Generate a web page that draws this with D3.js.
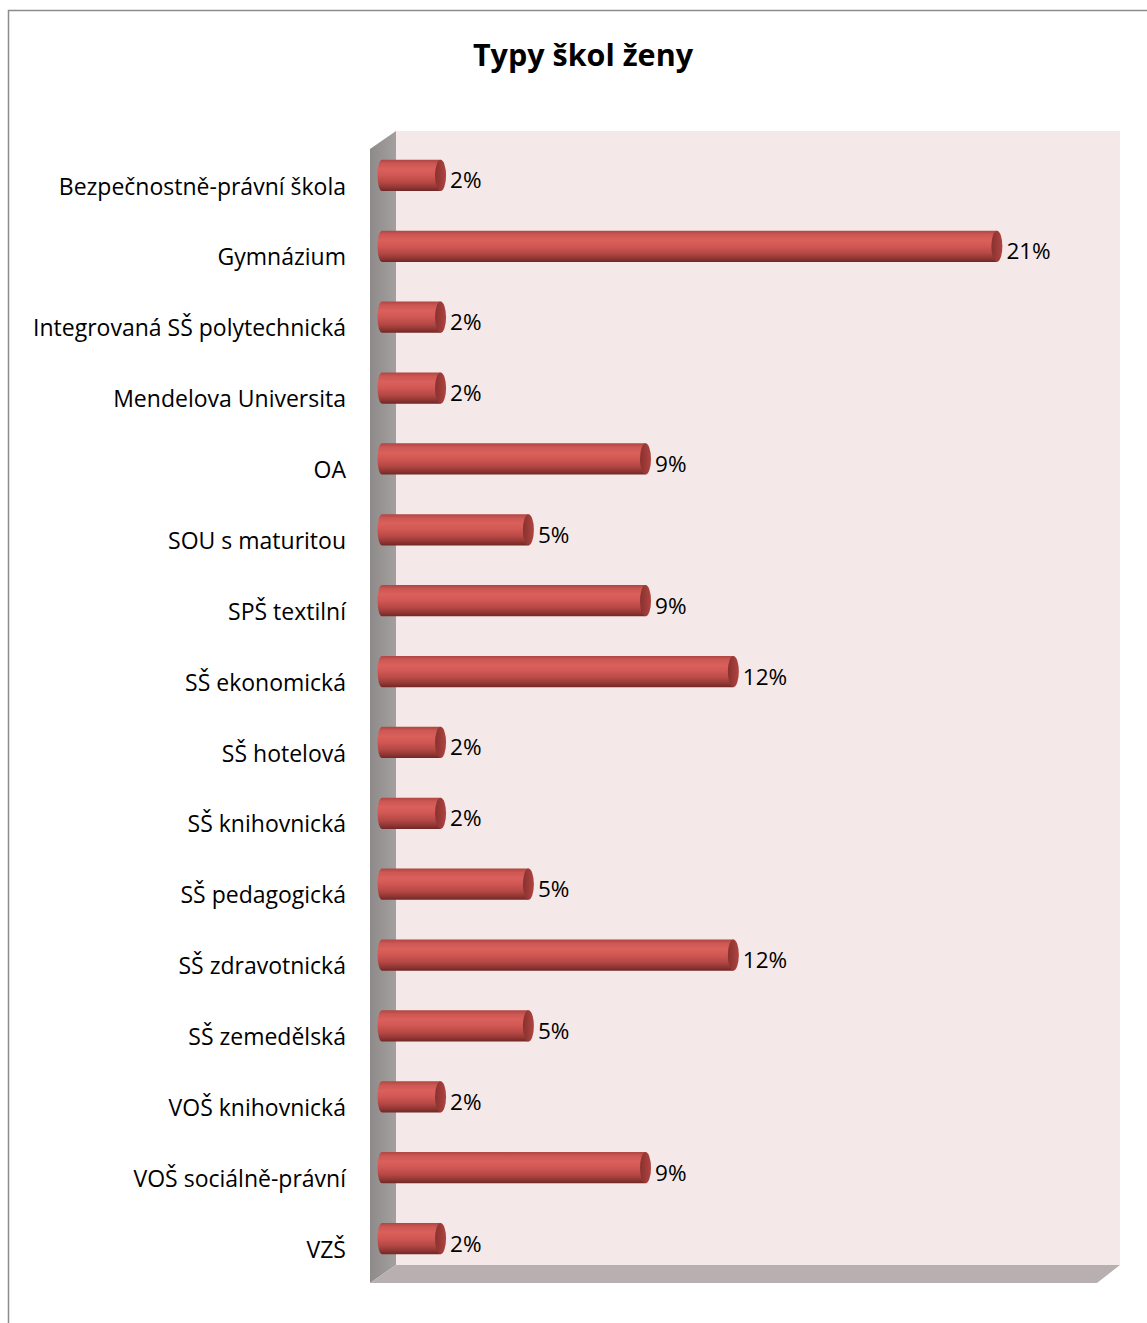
<!DOCTYPE html>
<html>
<head>
<meta charset="utf-8">
<script src="https://cdn.jsdelivr.net/npm/d3@7"></script>
<style>
  html, body { margin: 0; padding: 0; background: #fff; }
  svg { display: block; }
</style>
</head>
<body>
<div id="chart"></div>
<script>
// Podíl typů škol (ženy), v procentech
const categories = [
  "Bezpečnostně-právní škola",
  "Gymnázium",
  "Integrovaná SŠ polytechnická",
  "Mendelova Universita",
  "OA",
  "SOU s maturitou",
  "SPŠ textilní",
  "SŠ ekonomická",
  "SŠ hotelová",
  "SŠ knihovnická",
  "SŠ pedagogická",
  "SŠ zdravotnická",
  "SŠ zemedělská",
  "VOŠ knihovnická",
  "VOŠ sociálně-právní",
  "VZŠ"
];
const values = [2, 21, 2, 2, 9, 5, 9, 12, 2, 2, 5, 12, 5, 2, 9, 2];
const valueLabels = values.map(v => v + "%");
const title = "Typy škol ženy";

const W = 1147, H = 1323;
const font = "'Open Sans', 'DejaVu Sans', sans-serif";

const svg = d3.select("#chart").append("svg")
  .attr("width", W).attr("height", H);

const defs = svg.append("defs");

// vertical shading of the cylinders
const barGrad = defs.append("linearGradient")
  .attr("id", "barGrad").attr("x1", 0).attr("y1", 0).attr("x2", 0).attr("y2", 1);
[[0, "#b04542"], [0.12, "#cc5753"], [0.3, "#da605c"], [0.5, "#d05753"],
 [0.72, "#b54845"], [0.88, "#923734"], [1, "#6f2826"]]
  .forEach(([o, c]) => barGrad.append("stop").attr("offset", o).attr("stop-color", c));

const capGrad = defs.append("linearGradient")
  .attr("id", "capGrad").attr("x1", 0).attr("y1", 0).attr("x2", 1).attr("y2", 0);
[[0, "#87322f"], [0.6, "#a03c39"], [1, "#b04542"]]
  .forEach(([o, c]) => capGrad.append("stop").attr("offset", o).attr("stop-color", c));

const wallGrad = defs.append("linearGradient")
  .attr("id", "wallGrad").attr("x1", 0).attr("y1", 0).attr("x2", 1).attr("y2", 0);
[[0, "#8f8a8a"], [1, "#a5a0a0"]]
  .forEach(([o, c]) => wallGrad.append("stop").attr("offset", o).attr("stop-color", c));

// outer chart frame
svg.append("rect")
  .attr("x", 8.5).attr("y", 10.5)
  .attr("width", 1300).attr("height", 1400)
  .attr("fill", "#fff").attr("stroke", "#8c8c8c").attr("stroke-width", 1.5);

// title
svg.append("text")
  .attr("x", 583).attr("y", 66)
  .attr("text-anchor", "middle")
  .attr("font-family", font).attr("font-weight", "bold")
  .attr("font-size", 30.5)
  .attr("fill", "#000")
  .text(title);

// 3D box: back wall, side wall and floor
const back = { x0: 396, x1: 1120, y0: 131, y1: 1265 };
const depth = { dx: -26, dy: 18 };

svg.append("rect")
  .attr("x", back.x0).attr("y", back.y0)
  .attr("width", back.x1 - back.x0).attr("height", back.y1 - back.y0)
  .attr("fill", "#f4e8e8");

svg.append("polygon")
  .attr("points", [
    [back.x0 + depth.dx, back.y0 + depth.dy],
    [back.x0, back.y0],
    [back.x0, back.y1],
    [back.x0 + depth.dx, back.y1 + depth.dy]
  ].map(p => p.join(",")).join(" "))
  .attr("fill", "url(#wallGrad)");

svg.append("polygon")
  .attr("points", [
    [back.x0 + depth.dx, back.y1 + depth.dy],
    [back.x0, back.y1],
    [back.x1, back.y1],
    [back.x1 + depth.dx + 3, back.y1 + depth.dy]
  ].map(p => p.join(",")).join(" "))
  .attr("fill", "#b8b0b0");

// scales
const x = d3.scaleLinear().domain([0, 25]).range([382, 1114]);
const y = d3.scaleBand().domain(categories).range([140, 1274]).paddingInner(0.56).paddingOuter(0.28);
const bh = y.bandwidth();
const rx = 5.5;

const bars = svg.append("g").selectAll("g")
  .data(categories.map((c, i) => ({ c, v: values[i], label: valueLabels[i] })))
  .join("g")
  .attr("transform", d => `translate(0,${y(d.c)})`);

// cylinder body with rounded back end
bars.append("path")
  .attr("d", d => {
    const x0 = x(0), x1 = x(d.v);
    return `M${x1},0 L${x0},0 A${rx - 1},${bh / 2} 0 0 0 ${x0},${bh} L${x1},${bh} Z`;
  })
  .attr("fill", "url(#barGrad)");

// front end cap
bars.append("ellipse")
  .attr("cx", d => x(d.v))
  .attr("cy", bh / 2)
  .attr("rx", rx).attr("ry", bh / 2)
  .attr("fill", "url(#capGrad)");

// value labels
bars.append("text")
  .attr("x", d => x(d.v) + rx + 4)
  .attr("y", bh / 2 + 7)
  .attr("dominant-baseline", "middle")
  .attr("font-family", font).attr("font-size", 22.5)
  .attr("fill", "#000")
  .text(d => d.label);

// category labels
svg.append("g").selectAll("text")
  .data(categories)
  .join("text")
  .attr("x", 346)
  .attr("y", d => y(d) + bh / 2 + 13)
  .attr("text-anchor", "end")
  .attr("dominant-baseline", "middle")
  .attr("font-family", font).attr("font-size", 23)
  .attr("fill", "#000")
  .text(d => d);
</script>
</body>
</html>
